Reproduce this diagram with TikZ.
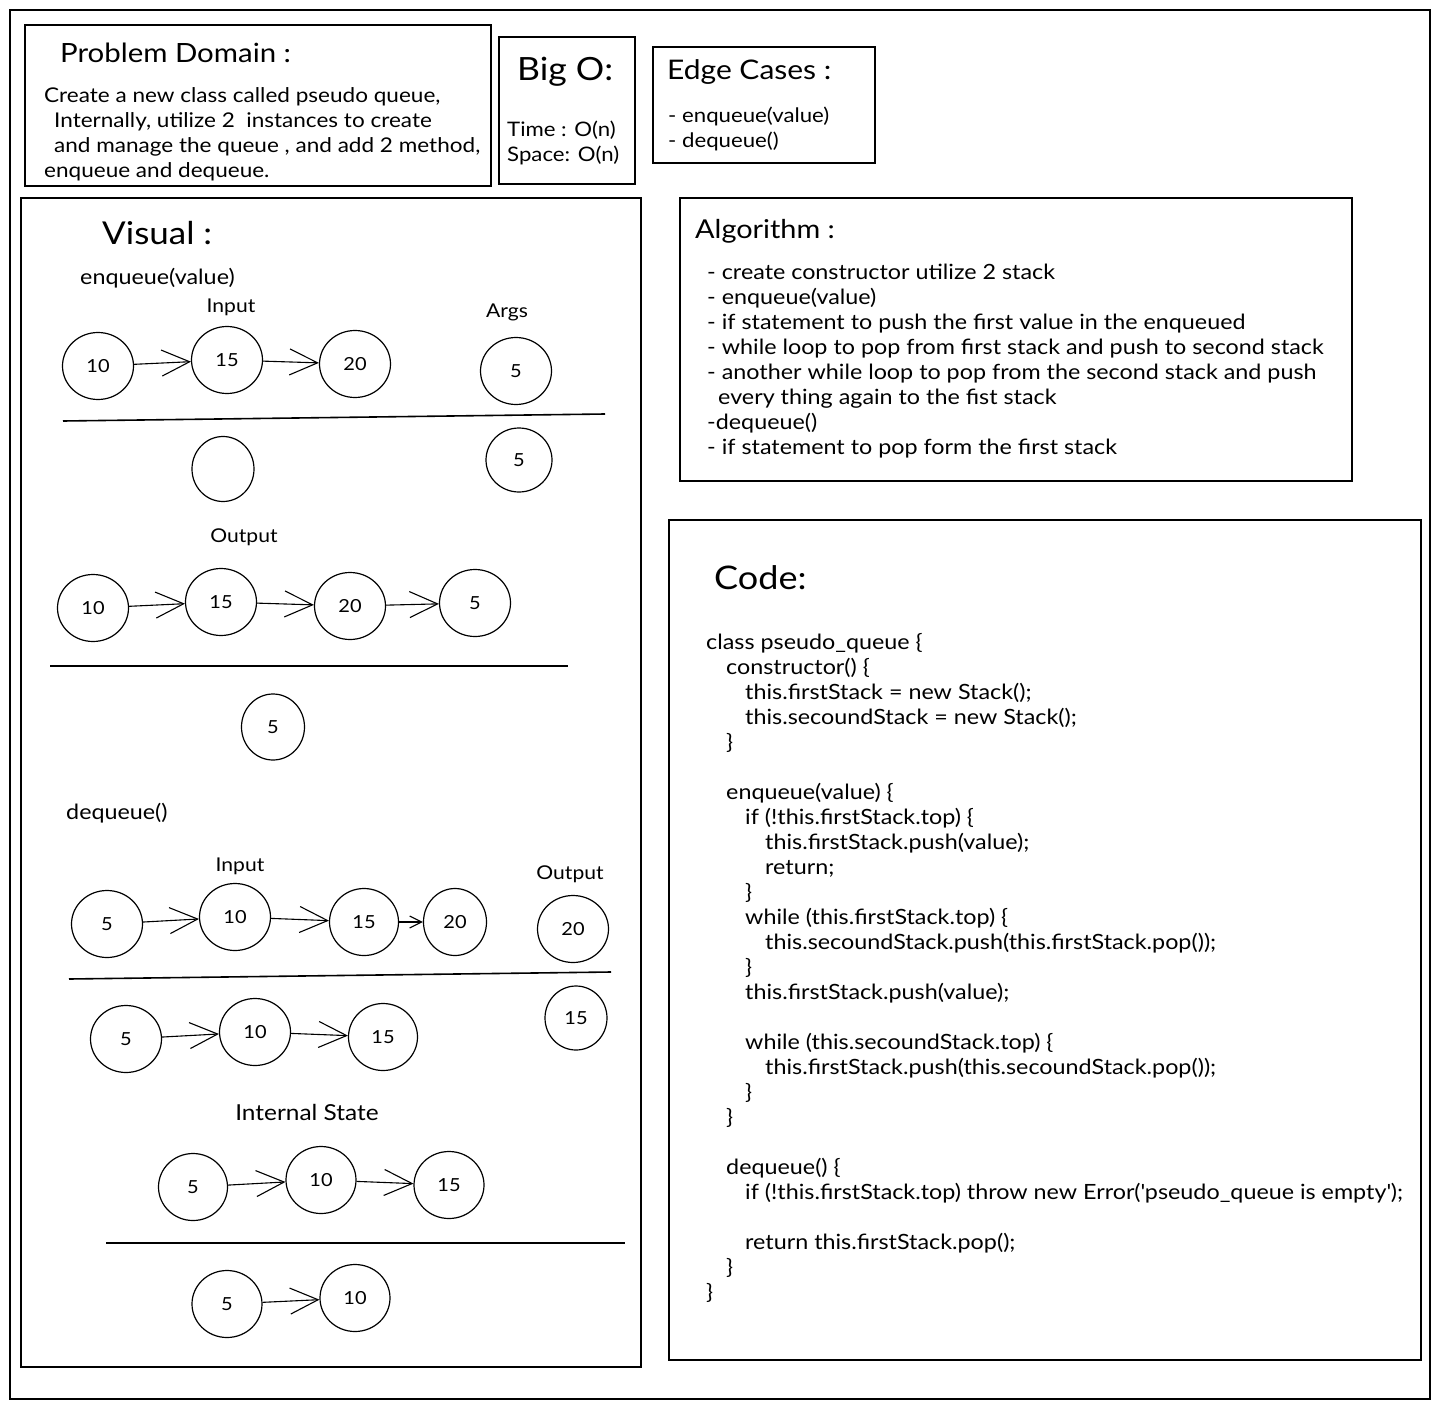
\documentclass[tikz,border=0pt]{standalone}
\usepackage{fontspec}
\setmainfont{Lato}[FakeStretch=1.11]
\usetikzlibrary{arrows.meta,shapes.geometric}
\newcommand\myline[4]{\node[txt] (#1) at (#2,#3) {#4};}
\begin{document}
\begin{tikzpicture}[x=1pt,y=-1pt,
  frame/.style={draw,line width=1.4pt},
  bub/.style={draw,ellipse,line width=1.2pt,minimum width=71pt,minimum height=67pt,inner sep=0pt,font=\fontsize{18}{20}\selectfont},
  lnk/.style={-{Straight Barb[length=28pt,width=26pt]},line width=1.1pt},
  slnk/.style={-{Straight Barb[length=12pt,width=12pt]},line width=1.1pt},
  sep/.style={line width=1.6pt},
  txt/.style={anchor=base west,inner sep=0pt,yshift=-1.5pt,font=\fontsize{21}{25}\selectfont},
  small/.style={font=\fontsize{20.3}{25}\selectfont},
  lab/.style={inner sep=0pt,font=\fontsize{19}{22}\selectfont},
  head/.style={anchor=base west,inner sep=0pt},
]
\useasboundingbox (0,0) rectangle (1440,1410);
\fill[white] (0,0) rectangle (1440,1410);

% frames
\draw[frame] (10,10) rectangle (1430,1399);
\draw[frame] (25,25) rectangle (491,186);
\draw[frame] (499,37) rectangle (635,184);
\draw[frame] (653,47) rectangle (875,163);
\draw[frame] (21,198) rectangle (641,1367);
\draw[frame] (680,198) rectangle (1352,481);
\draw[frame] (669,520) rectangle (1421,1360);

% Problem domain
\node[head,font=\fontsize{26.5}{30}\selectfont] (pdh) at (60,63) {Problem Domain :};
\node[txt,small] (pd1) at (44,101) {Create a new class called pseudo queue,};
\node[txt,small] (pd2) at (54,126) {Internally, utilize 2 \ instances to create};
\node[txt,small] (pd3) at (54,151) {and manage the queue , and add 2 method,};
\node[txt,small] (pd4) at (44,176) {enqueue and dequeue.};

% Big O
\node[head,font=\fontsize{32}{36}\selectfont] (boh) at (517,81) {Big O:};
\node[txt,font=\fontsize{20}{25}\selectfont] (bo1) at (507,135) {Time : O(n)};
\node[txt,font=\fontsize{20}{25}\selectfont] (bo2) at (507,160) {Space: O(n)};

% Edge cases
\node[head,font=\fontsize{27}{30}\selectfont] (ech) at (667,80) {Edge Cases :};
\node[txt,font=\fontsize{20}{25}\selectfont] (ec1) at (668,121) {- enqueue(value)};
\node[txt,font=\fontsize{20}{25}\selectfont] (ec2) at (668,146) {- dequeue()};

% Algorithm
\node[head,font=\fontsize{26}{30}\selectfont] (alh) at (695,238) {Algorithm :};
\myline{al1}{707}{278}{- create constructor utilize 2 stack}
\myline{al2}{707}{303}{- enqueue(value)}
\myline{al3}{707}{328}{- if statement to push the first value in the enqueued}
\myline{al4}{707}{353}{- while loop to pop from first stack and push to second stack}
\myline{al5}{707}{378}{- another while loop to pop from the second stack and push}
\myline{al6}{718}{403}{every thing again to the fist stack}
\myline{al7}{707}{428}{-dequeue()}
\myline{al8}{707}{453}{- if statement to pop form the first stack}

% Code
\node[head,font=\fontsize{32.5}{36}\selectfont] (cdh) at (714,589) {Code:};
\myline{c0}{706}{648}{class pseudo\_queue \{}
\myline{c1}{726}{673}{constructor() \{}
\myline{c2}{745}{698}{this.firstStack = new Stack();}
\myline{c3}{745}{723}{this.secoundStack = new Stack();}
\myline{c4}{726}{748}{\}}
\myline{c6}{726}{798}{enqueue(value) \{}
\myline{c7}{745}{823}{if (!this.firstStack.top) \{}
\myline{c8}{765}{848}{this.firstStack.push(value);}
\myline{c9}{765}{873}{return;}
\myline{c10}{745}{898}{\}}
\myline{c11}{745}{923}{while (this.firstStack.top) \{}
\myline{c12}{765}{948}{this.secoundStack.push(this.firstStack.pop());}
\myline{c13}{745}{973}{\}}
\myline{c14}{745}{998}{this.firstStack.push(value);}
\myline{c16}{745}{1048}{while (this.secoundStack.top) \{}
\myline{c17}{765}{1073}{this.firstStack.push(this.secoundStack.pop());}
\myline{c18}{745}{1098}{\}}
\myline{c19}{726}{1123}{\}}
\myline{c21}{726}{1173}{dequeue() \{}
\myline{c22}{745}{1198}{if (!this.firstStack.top) throw new Error(\textquotesingle pseudo\_queue is empty\textquotesingle);}
\myline{c24}{745}{1248}{return this.firstStack.pop();}
\myline{c25}{726}{1273}{\}}
\myline{c26}{706}{1298}{\}}

% Visual
\node[head,font=\fontsize{31.5}{36}\selectfont] (vih) at (102,244) {Visual :};
\myline{enq}{80}{283}{enqueue(value)}
\node[lab] (in1) at (231,307) {Input};
\node[lab] (args) at (507,312) {Args};

\node[bub] (a10) at (98,366) {10};
\node[bub] (a15) at (227,360) {15};
\node[bub] (a20) at (355,364) {20};
\node[bub] (a5) at (516,371) {5};
\draw[lnk] (a10) -- (a15);
\draw[lnk] (a15) -- (a20);
\draw[sep] (63,421) -- (605,414);
\node[bub,minimum width=62pt,minimum height=65pt] (aemp) at (223,469) {};
\node[bub,minimum width=66pt,minimum height=64pt] (a5b) at (519,460) {5};

\node[lab] (out1) at (244,537) {Output};
\node[bub] (b10) at (93,608) {10};
\node[bub] (b15) at (221,602) {15};
\node[bub] (b20) at (350,606) {20};
\node[bub] (b5) at (475,603) {5};
\draw[lnk] (b10) -- (b15);
\draw[lnk] (b15) -- (b20);
\draw[lnk] (b20) -- (b5);
\draw[sep] (50,666) -- (568,666);
\node[bub,minimum width=63pt,minimum height=66pt] (b5b) at (273,727) {5};

\myline{deq}{66}{818}{dequeue()}
\node[lab] (in2) at (240,866) {Input};
\node[lab] (out2) at (570,874) {Output};
\node[bub] (c5) at (107,924) {5};
\node[bub] (c10) at (235,917) {10};
\node[bub,minimum width=69pt] (c15) at (364,922) {15};
\node[bub,minimum width=63pt] (c20) at (455,922) {20};
\node[bub] (c20b) at (573,929) {20};
\draw[lnk] (c5) -- (c10);
\draw[lnk] (c10) -- (c15);
\draw[slnk] (c15) -- (c20);
\draw[sep] (69,979) -- (611,972);
\node[bub] (d5) at (126,1039) {5};
\node[bub] (d10) at (255,1032) {10};
\node[bub,minimum width=69pt] (d15) at (383,1037) {15};
\node[bub,minimum width=62pt,minimum height=64pt] (d15b) at (576,1018) {15};
\draw[lnk] (d5) -- (d10);
\draw[lnk] (d10) -- (d15);

\node[lab,font=\fontsize{22}{24}\selectfont] (ist) at (307,1112) {Internal State};
\node[bub,minimum width=69pt] (e5) at (193,1187) {5};
\node[bub,minimum width=70pt] (e10) at (321,1180) {10};
\node[bub,minimum width=70pt] (e15) at (449,1185) {15};
\draw[lnk] (e5) -- (e10);
\draw[lnk] (e10) -- (e15);
\draw[sep] (106,1243) -- (625,1243);
\node[bub,minimum width=70pt] (f5) at (227,1304) {5};
\node[bub,minimum width=70pt] (f10) at (355,1298) {10};
\draw[lnk] (f5) -- (f10);
\end{tikzpicture}
\end{document}
